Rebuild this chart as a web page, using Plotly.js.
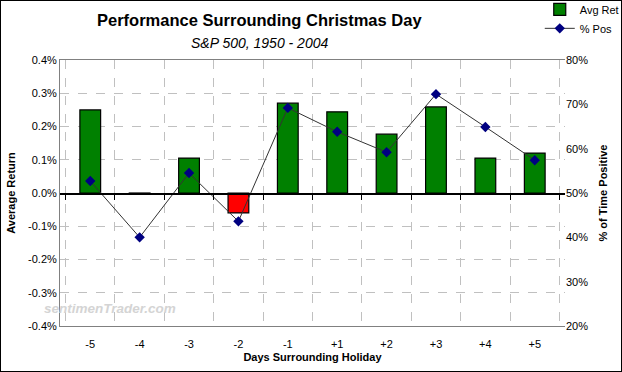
<!DOCTYPE html>
<html><head><meta charset="utf-8">
<script src="https://cdn.plot.ly/plotly-3.0.1.min.js"></script>
<style>body{margin:0;background:#fff}#c{width:620px;height:370px;border:1px solid #000}</style>
</head><body><div id="c"></div>
<script>
const days = ['-5','-4','-3','-2','-1','+1','+2','+3','+4','+5'];
const avgRet = [0.25, -0.003, 0.105, -0.06, 0.27, 0.244, 0.177, 0.259, 0.105, 0.12];
const pctPos = [52.7, 40.0, 54.5, 43.6, 69.2, 63.8, 59.2, 72.3, 64.9, 57.4];
const yTicks = [-0.4,-0.3,-0.2,-0.1,0,0.1,0.2,0.3,0.4];
const yTickText = yTicks.map(v => v.toFixed(1) + '%');
const y2Ticks = [20,30,40,50,60,70,80];
const y2TickText = y2Ticks.map(v => v + '%');

const F = 'Arial, "Liberation Sans", sans-serif';
const traces = [
  {type:'bar', name:'Avg Ret', x:days, y:avgRet, width:0.42,
   marker:{color:avgRet.map(v => v < -0.01 ? '#ff0000' : '#008000'), line:{color:'#000', width:1.2}}},
  {type:'scatter', mode:'lines+markers', name:'% Pos', x:days, y:pctPos, yaxis:'y2',
   line:{color:'#333', width:1}, marker:{symbol:'diamond', size:8, color:'#000080'}},
  {type:'scatter', x:days, y:avgRet, xaxis:'x2', mode:'none', showlegend:false, hoverinfo:'skip'}
];
const layout = {
  width:620, height:370,
  margin:{l:59, r:56, t:59, b:45, autoexpand:false},
  paper_bgcolor:'#fff', plot_bgcolor:'#fff',
  font:{family:F, size:11, color:'#000'},
  xaxis:{type:'category', tickson:'boundaries', showgrid:true, gridcolor:'#c0c0c0', griddash:'dash', gridwidth:1,
         ticks:'', showline:true, linecolor:'#808080', mirror:true, zeroline:false,
         tickfont:{family:F, size:11}, ticklabelstandoff:8,
         title:{text:'<b>Days Surrounding Holiday</b>', font:{family:F, size:11}, standoff:4}},
  xaxis2:{type:'category', matches:'x', overlaying:'x', anchor:'free', position:0.5, side:'bottom',
          tickson:'boundaries', ticks:'outside', ticklen:5, tickcolor:'#000', showline:true, linecolor:'#000', linewidth:1.5,
          showticklabels:false, showgrid:false, zeroline:false},
  yaxis:{range:[-0.4,0.4], tickvals:yTicks, ticktext:yTickText, showgrid:true, gridcolor:'#c0c0c0', griddash:'dash',
         zeroline:false, showline:true, linecolor:'#808080', ticks:'', tickfont:{family:F, size:11},
         title:{text:'<b>Average Return</b>', font:{family:F, size:11}, standoff:10}},
  yaxis2:{overlaying:'y', side:'right', range:[20,80], tickvals:y2Ticks, ticktext:y2TickText, showgrid:false,
          zeroline:false, showline:false, ticks:'', tickfont:{family:F, size:11},
          title:{text:'<b>% of Time Positive</b>', font:{family:F, size:11}, standoff:12}},
  legend:{x:0.95, xanchor:'left', y:1.245, yanchor:'top', bgcolor:'rgba(0,0,0,0)', font:{family:F, size:11},
          itemwidth:30, tracegroupgap:0},
  annotations:[
    {text:'<b>Performance Surrounding Christmas Day</b>', xref:'paper', yref:'paper', x:0.396, y:1.150,
     xanchor:'center', yanchor:'middle', showarrow:false, font:{family:F, size:16.5, color:'#000'}},
    {text:'<i>S&P 500, 1950 - 2004</i>', xref:'paper', yref:'paper', x:0.396, y:1.064,
     xanchor:'center', yanchor:'middle', showarrow:false, font:{family:F, size:14, color:'#000'}},
    {text:'<b><i>sentimenTrader.com</i></b>', xref:'paper', yref:'paper', x:-0.035, y:0.03,
     xanchor:'left', yanchor:'bottom', showarrow:false, font:{family:F, size:13.5, color:'#d4d4d4'}}],
  showlegend:true
};
Plotly.newPlot('c', traces, layout, {displayModeBar:false, staticPlot:true});
</script></body></html>
